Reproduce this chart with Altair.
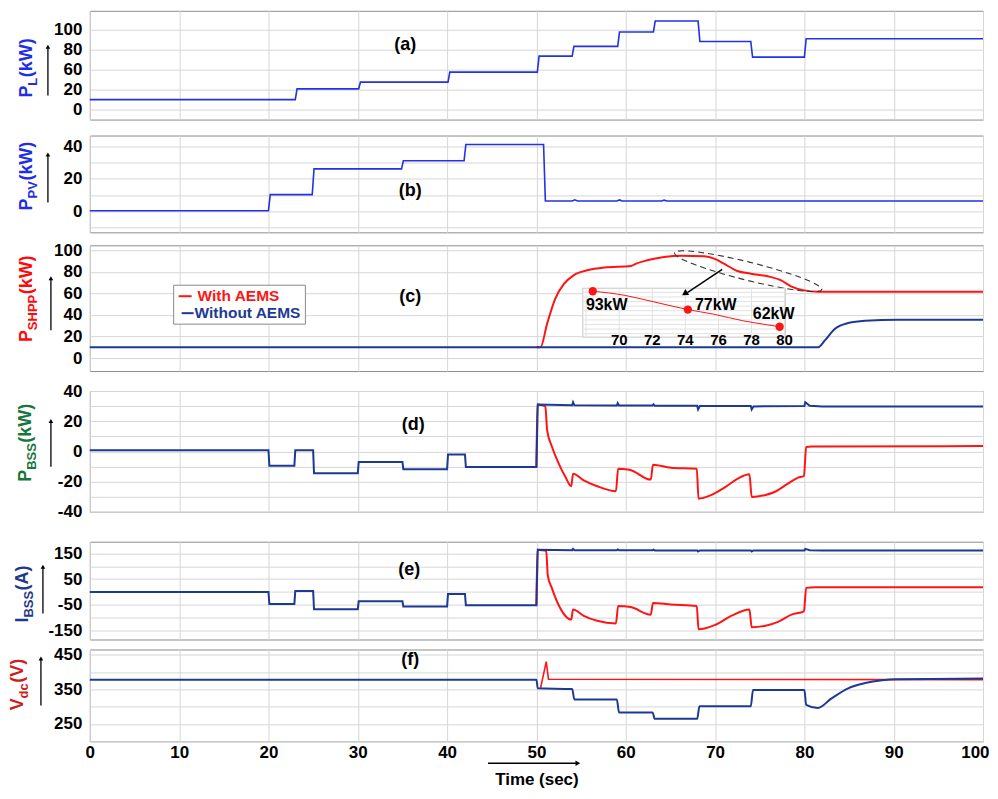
import altair as alt
import pandas as pd

# ---------------- data ----------------
PL_t = [0, 23.0, 23.2, 30.1, 30.3, 40.1, 40.3, 50.1, 50.3, 54.0, 54.2, 59.1, 59.3, 63.1, 63.3, 68.1, 68.3, 74.0, 74.2, 80.0, 80.2, 100]
PL_v = [10, 10, 20.8, 20.8, 27.5, 27.5, 37.5, 37.5, 53.6, 53.6, 63.3, 63.3, 77.7, 77.7, 88.7, 88.7, 68.3, 68.3, 52.6, 52.6, 71, 71]

PV_t = [0, 20.0, 20.2, 24.9, 25.1, 34.9, 35.1, 41.9, 42.1, 50.8, 51.0, 54.0, 54.3, 54.6, 59.0, 59.3, 59.6, 64.0, 64.3, 64.6, 100]
PV_v = [0.3, 0.3, 10.2, 10.2, 26.0, 26.0, 31.0, 31.0, 41.0, 41.0, 6.3, 6.3, 7.0, 6.3, 6.3, 6.9, 6.3, 6.3, 6.8, 6.3, 6.3]

SH_red_t = [50.0, 50.45, 51.2, 52.1, 53.1, 54.2, 55.7, 57.6, 60.6, 61.0, 62.4, 64.3, 66.2, 68.8, 69.9, 71.0, 72.5, 74.0, 75.9, 77.4, 78.5, 80.0, 81.5, 100]
SH_red_v = [10, 10, 32, 55, 69, 77, 81.4, 84, 85.4, 87, 90.7, 93.8, 95, 94.4, 92.3, 87.6, 80.8, 78.3, 75.9, 72.1, 66.6, 62.8, 61.6, 61.6]
SH_blue_t = [0, 81.5, 82.3, 83.4, 84.9, 86.8, 90.5, 100]
SH_blue_v = [10, 10, 16.4, 27, 32.5, 34.7, 35.6, 35.6]

B_blue_t = [0, 20.0, 20.1, 22.9, 23.0, 25.0, 25.1, 30.0, 30.1, 35.0, 35.1, 40.0, 40.1, 42.0, 42.1, 50.0, 50.15,
            54.0, 54.1, 54.25, 59.0, 59.1, 59.25, 63.0, 63.1, 63.25, 68.0, 68.1, 68.3, 74.0, 74.1, 74.3,
            80.0, 80.1, 80.6, 82.0, 100]
PB_blue_v = [0.7, 0.7, -9.5, -9.5, 0.7, 0.7, -14.5, -14.5, -7.0, -7.0, -11.9, -11.9, -2.0, -2.0, -10.4, -10.4, 31.0,
             30.5, 32.6, 30.5, 30.4, 32.0, 30.4, 30.4, 31.2, 30.3, 30.2, 27.8, 30.0, 30.0, 27.8, 29.8,
             30.0, 32.6, 30.2, 29.7, 29.7]
IB_blue_v = [0, 0, -47, -47, 3, 3, -68, -68, -37, -37, -57, -57, -8, -8, -52, -52, 165,
             163, 168, 163, 163, 166, 163, 163, 165, 162, 162, 158, 162, 162, 158, 162,
             162, 168, 163, 162, 162]

PB_red_t = [50.0, 50.1, 50.55, 51.0, 51.2, 51.75, 52.5, 53.25, 53.9, 54.1, 55.3, 56.8, 58.9, 59.15, 60.4, 62.8,
            63.05, 65.05, 67.95, 68.15, 69.55, 71.05, 72.55, 73.85, 74.1, 75.55, 76.65, 78.15, 79.3, 79.95,
            80.2, 80.8, 100]
PB_red_v = [-10.4, 31.0, 30.8, 29.7, 13.9, 2.9, -8.1, -17.0, -23.1, -14.8, -19.2, -23.1, -26.4, -11.5, -12.1, -18.7,
            -8.8, -10.8, -11.5, -31.3, -29.0, -24.0, -18.0, -15.2, -30.2, -29.0, -26.9, -21.4, -17.4, -16.3,
            2.9, 3.3, 3.5]

IB_red_t = [50.0, 50.1, 50.55, 51.1, 51.27, 51.75, 52.5, 53.25, 53.9, 54.1, 55.3, 56.8, 58.9, 59.15, 60.55, 62.8,
            63.05, 65.05, 67.95, 68.15, 69.95, 71.8, 73.85, 74.1, 75.55, 77.05, 78.55, 79.95, 80.2, 81.15, 100]
IB_red_v = [-52, 165, 163, 159, 65, 13, -52, -94, -108, -69, -94, -113, -123, -55, -59, -89,
            -43, -49, -55, -146, -130, -94, -69, -138, -133, -117, -89, -76, 15.7, 18, 18]

VD_blue_t = [0, 50.0, 50.15, 54.0, 54.25, 59.0, 59.25, 63.0, 63.25, 68.0, 68.25, 74.0, 74.25, 80.0, 80.2,
             81.5, 83.0, 84.9, 86.8, 88.7, 90.5, 100]
VD_blue_v = [378, 378, 353, 351, 321, 321, 283, 283, 265, 265, 301, 301, 348, 348, 305,
             296, 323, 353, 368, 376, 379, 381]
VD_red_t = [50.45, 51.1, 51.35, 100]
VD_red_v = [352, 430, 379, 378]

# inset of panel (c)
IN_t = [68.4, 70.3, 72.1, 74.15, 75.7, 77.5, 78.7, 79.7]
IN_v = [93, 89.5, 83.7, 77, 73, 67.2, 64.3, 62]
MK_t = [68.4, 74.15, 79.7]
MK_v = [93, 77, 62]
MK_lab = ["93kW", "77kW", "62kW"]
IN_ticks = [70, 72, 74, 76, 78, 80]
IN_gx = [68, 70, 72, 74, 76, 78, 80]
IN_gy = [56, 60, 64, 68, 72, 76, 80, 84, 88, 92]

X_TICKS = list(range(0, 101, 10))

# ---------------- style ----------------
FONT = "Liberation Sans"
W = 895
BLUE_AB = "#2232e4"
NAVY = "#1c3a94"
RED = "#ff1414"
one = pd.DataFrame({"k": [0]})

CW = {"P": 667, "L": 611, "V": 667, "S": 667, "H": 722, "B": 722, "I": 278, "d": 611, "c": 556,
      "(": 333, ")": 333, "k": 556, "W": 944, "A": 722}


def tw(s, size):
    return sum(CW[c] for c in s) * size / 1000.0


def df(t, v):
    return pd.DataFrame({"t": t, "v": v})


def xenc(bottom=False):
    if bottom:
        ax = alt.Axis(values=X_TICKS, grid=True, ticks=False, domain=False, labelPadding=3,
                      titlePadding=11, format="d",
                      labelAlign=alt.ExprRef("datum.value == 100 ? 'right' : 'center'"),
                      labelOffset=alt.ExprRef("datum.value == 100 ? 6 : 0"))
        return alt.X("t:Q", scale=alt.Scale(domain=[0, 100], nice=False, zero=False), axis=ax,
                     title="Time (sec)")
    ax = alt.Axis(values=X_TICKS, grid=True, ticks=False, domain=False, labels=False)
    return alt.X("t:Q", scale=alt.Scale(domain=[0, 100], nice=False, zero=False), axis=ax, title=None)


def yenc(dom, vals, expr):
    ax = alt.Axis(values=vals, grid=True, ticks=False, domain=False, labelPadding=8, labelExpr=expr)
    return alt.Y("v:Q", scale=alt.Scale(domain=dom, nice=False, zero=False), axis=ax, title=None)


def line(t, v, color, sw, y, bottom=False, interp="linear"):
    return alt.Chart(df(t, v)).mark_line(color=color, strokeWidth=sw, interpolate=interp).encode(
        x=xenc(bottom), y=y)


def txt(s, x, y, size=18, color="black", **kw):
    return alt.Chart(one).mark_text(text=s, font=FONT, fontSize=size, fontWeight="bold", color=color,
                                    **kw).encode(x=alt.value(x), y=alt.value(y))


def ylabel(main, sub, unit, color, xc, yb, ax, ay0, ay1):
    size, ssize = 18, 13
    out = []
    y = yb
    out.append(txt(main, xc, y, size, color, angle=270, align="left", baseline="middle"))
    y -= tw(main, size)
    out.append(txt(sub, xc + 6, y, ssize, color, angle=270, align="left", baseline="middle"))
    y -= tw(sub, ssize) + 0.5
    out.append(txt(unit, xc, y, size, color, angle=270, align="left", baseline="middle"))
    out.append(alt.Chart(one).mark_rule(color="black", strokeWidth=1.3).encode(
        x=alt.value(ax), y=alt.value(ay0), y2=alt.value(ay1 + 4)))
    out.append(alt.Chart(one).mark_point(shape="triangle-up", filled=True, color="black", size=22,
                                          opacity=1).encode(x=alt.value(ax), y=alt.value(ay1 + 3)))
    return out


# ---------------- panel (a) ----------------
ya = yenc([-10, 99], [0, 20, 40, 60, 80],
          "datum.value==0?'0':datum.value==20?'20':datum.value==40?'60':datum.value==60?'80':'100'")
pa = alt.layer(
    line(PL_t, PL_v, BLUE_AB, 1.6, ya),
    *ylabel("P", "L", "(kW)", "#1e2ee6", -63, 87, -42, 85, 33),
    txt("(a)", 316, 34),
).properties(width=W, height=109)

# ---------------- panel (b) ----------------
yb = yenc([-13, 46.5], [-10, 0, 10, 20, 30, 40], "datum.value % 20 == 0 ? datum.label : ''")
pb = alt.layer(
    line(PV_t, PV_v, BLUE_AB, 1.6, yb),
    *ylabel("P", "PV", "(kW)", "#1e2ee6", -63, 75, -42, 67, 16),
    txt("(b)", 321, 56),
).properties(width=W, height=97)

# ---------------- panel (c) ----------------
yc = yenc([-12, 104.6], [0, 20, 40, 60, 80, 100], "datum.label")
ell_path = "M -1 0 A 1 0.12 0 1 0 1 0 A 1 0.12 0 1 0 -1 0 Z"
main_c = alt.layer(
    line(SH_red_t, SH_red_v, RED, 2, yc, interp="monotone"),
    line(SH_blue_t, SH_blue_v, NAVY, 2, yc, interp="monotone"),
    *ylabel("P", "SHPP", "(kW)", "#ff0a0a", -63, 97, -39, 85, 30),
    txt("(c)", 321, 52),
    # legend
    alt.Chart(one).mark_rect(fill="white", stroke="#8a8a8a", strokeWidth=1).encode(
        x=alt.value(84), x2=alt.value(216), y=alt.value(40), y2=alt.value(79)),
    alt.Chart(one).mark_rule(color=RED, strokeWidth=2).encode(
        x=alt.value(89), x2=alt.value(102), y=alt.value(51)),
    txt("With AEMS", 108, 51, 15.5, RED, align="left", baseline="middle"),
    alt.Chart(one).mark_rule(color=NAVY, strokeWidth=2).encode(
        x=alt.value(92), x2=alt.value(104), y=alt.value(68)),
    txt("Without AEMS", 105, 68, 15.5, NAVY, align="left", baseline="middle"),
    # dashed ellipse
    alt.Chart(pd.DataFrame({"t": [73.7], "v": [80.6]})).mark_point(
        shape=ell_path, size=23104, angle=14, filled=False, color="#333333", strokeWidth=1.1,
        strokeDash=[6, 4], opacity=1).encode(x=xenc(), y=yc),
)

ix = alt.X("t:Q", scale=alt.Scale(domain=[67.8, 80.05], range=[494, 697], nice=False, zero=False), axis=None)
iy = alt.Y("v:Q", scale=alt.Scale(domain=[53, 95.6], range=[92, 43], nice=False, zero=False), axis=None)
inset_c = alt.layer(
    alt.Chart(one).mark_rect(fill="white", stroke="#c8c8c8", strokeWidth=1).encode(
        x=alt.value(494), x2=alt.value(697), y=alt.value(43), y2=alt.value(92)),
    alt.Chart(pd.DataFrame({"t": IN_gx})).mark_rule(color="#e2e2e2", strokeWidth=1).encode(
        x=ix, y=alt.value(43), y2=alt.value(92)),
    alt.Chart(pd.DataFrame({"v": IN_gy})).mark_rule(color="#e2e2e2", strokeWidth=1).encode(
        y=iy, x=alt.value(494), x2=alt.value(697)),
    alt.Chart(df(IN_t, IN_v)).mark_line(color=RED, strokeWidth=1, interpolate="monotone").encode(x=ix, y=iy),
    alt.Chart(df(MK_t, MK_v)).mark_point(shape="circle", filled=True, color=RED, size=70, opacity=1,
                                         ).encode(x=ix, y=iy),
    alt.Chart(pd.DataFrame({"t": MK_t[:1], "v": MK_v[:1], "s": MK_lab[:1]})).mark_text(
        font=FONT, fontSize=16, fontWeight="bold", dx=14, dy=14, color="black").encode(x=ix, y=iy, text="s:N"),
    alt.Chart(pd.DataFrame({"t": MK_t[1:2], "v": MK_v[1:2], "s": MK_lab[1:2]})).mark_text(
        font=FONT, fontSize=16, fontWeight="bold", dx=28, dy=-5, color="black").encode(x=ix, y=iy, text="s:N"),
    alt.Chart(pd.DataFrame({"t": MK_t[2:], "v": MK_v[2:], "s": MK_lab[2:]})).mark_text(
        font=FONT, fontSize=16, fontWeight="bold", dx=-6, dy=-13, color="black").encode(x=ix, y=iy, text="s:N"),
    alt.Chart(pd.DataFrame({"t": IN_ticks, "s": [str(k) for k in IN_ticks]})).mark_text(
        font=FONT, fontSize=15, fontWeight="bold", color="black").encode(x=ix, y=alt.value(95), text="s:N"),
)

# arrow from the dashed ellipse to the inset (drawn on top of the inset)
ax_m = alt.X("t:Q", scale=alt.Scale(domain=[0, 100], nice=False, zero=False), axis=None)
ay_m = alt.Y("v:Q", scale=alt.Scale(domain=[-12, 104.6], nice=False, zero=False), axis=None)
arrow_c = alt.layer(
    alt.Chart(pd.DataFrame({"t": [70.8], "v": [82.4], "t2": [66.9], "v2": [60.8]})).mark_rule(
        color="black", strokeWidth=1.5).encode(x=ax_m, y=ay_m, x2="t2:Q", y2="v2:Q"),
    alt.Chart(pd.DataFrame({"t": [66.6], "v": [59.8]})).mark_point(
        shape="triangle-up", filled=True, color="black", size=50, angle=237, opacity=1).encode(
        x=ax_m, y=ay_m),
)
pc = alt.layer(main_c, inset_c, arrow_c).resolve_scale(
    x="independent", y="independent").properties(width=W, height=126)

# ---------------- panel (d) ----------------
yd = yenc([-40, 40], list(range(-40, 41, 10)), "datum.value % 20 == 0 ? ''+datum.value : ''")
pd_ = alt.layer(
    line(PB_red_t, PB_red_v, RED, 2, yd, interp="monotone"),
    line(B_blue_t, PB_blue_v, NAVY, 2, yd),
    *ylabel("P", "BSS", "(kW)", "#17773a", -64, 91, -39, 76, 27),
    txt("(d)", 324, 34),
).properties(width=W, height=121)

# ---------------- panel (e) ----------------
ye = yenc([-186, 196], list(range(-150, 151, 50)),
          "abs(datum.value) % 100 == 50 ? ''+datum.value : ''")
pe = alt.layer(
    line(IB_red_t, IB_red_v, RED, 2, ye, interp="monotone"),
    line(B_blue_t, IB_blue_v, NAVY, 2, ye),
    *ylabel("I", "BSS", "(A)", "#1f3a8a", -67, 81, -47, 72, 22),
    txt("(e)", 320, 28),
).properties(width=W, height=98)

# ---------------- panel (f) ----------------
yf = yenc([200, 465], [200, 250, 300, 350, 400, 450], "datum.value % 100 == 50 ? datum.label : ''")
pf = alt.layer(
    line(VD_red_t, VD_red_v, RED, 1.6, yf, bottom=True),
    line(VD_blue_t, VD_blue_v, NAVY, 2, yf, bottom=True, interp="monotone"),
    *ylabel("V", "dc", "(V)", "#d11c1c", -72, 61, -49, 56, 6),
    txt("(f)", 321, 11),
    alt.Chart(one).mark_rule(color="black", strokeWidth=1.5).encode(
        x=alt.value(399), x2=alt.value(488), y=alt.value(114)),
    alt.Chart(one).mark_point(shape="triangle-right", filled=True, color="black", size=30, opacity=1).encode(
        x=alt.value(489), y=alt.value(114)),
).properties(width=W, height=92)


def spacer(h):
    return alt.Chart(one).mark_point(opacity=0).properties(
        width=W, height=h, view=alt.ViewBackground(stroke="transparent"))


chart = alt.vconcat(
    pa, spacer(16), pb, spacer(13), pc, spacer(20), pd_, spacer(30), pe, spacer(10), pf,
    spacing=0, bounds="flush",
).properties(
    padding={"left": 0, "top": 1, "right": 0, "bottom": 0}
).configure_view(
    stroke="#8c8c8c", strokeWidth=1
).configure_axis(
    labelFont=FONT, labelFontSize=17, labelFontWeight="bold", labelColor="black",
    gridColor="#d6d6d6", gridWidth=1,
    titleFont=FONT, titleFontSize=17, titleFontWeight="bold", titleColor="black",
)

chart.save("out.html", embed_options={"renderer": "svg", "actions": False})
